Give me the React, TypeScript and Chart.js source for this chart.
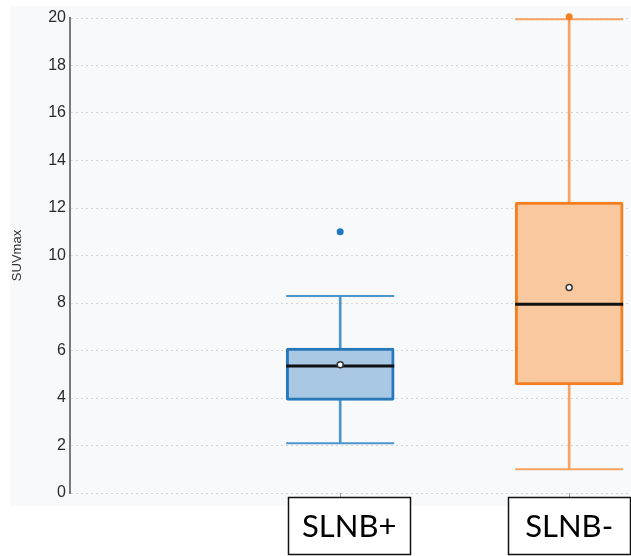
import React, { useEffect, useRef } from "react";
import { Chart, registerables } from "chart.js";

Chart.register(...registerables);

// ---- data ----
const categories = ["SLNB+", "SLNB-"];
const positions = [1, 2];
const q1 = [3.9, 4.55];
const q3 = [6.1, 12.25];
const medians = [5.35, 7.95];
const means = [5.4, 8.65];
const whiskerLow = [2.1, 1.0];
const whiskerHigh = [8.3, 19.95];
const outliers: number[][] = [[11.0], [20.05]];
const yTicks = [0, 2, 4, 6, 8, 10, 12, 14, 16, 18, 20];

// ---- styles ----
const boxFill = ["#a9c8e4", "#f9c89e"];
const boxBorder = ["#2778b9", "#f47f22"];
const whiskerColor = ["#4a95cd", "#f6a261"];
const outlierColor = ["#1f77c0", "#f47f22"];
const labelShift = [9, 0];

export default function App() {
  const ref = useRef<HTMLCanvasElement | null>(null);

  useEffect(() => {
    if (!ref.current) return;

    const bgPlugin = {
      id: "bgPanel",
      beforeDraw(chart: any) {
        const { ctx } = chart;
        ctx.save();
        ctx.fillStyle = "#ffffff";
        ctx.fillRect(0, 0, chart.width, chart.height);
        ctx.fillStyle = "#f8f9fa";
        ctx.fillRect(10, 6, chart.width - 10, 500);
        ctx.restore();
      },
    };

    const labelPlugin = {
      id: "catLabels",
      afterDraw(chart: any) {
        const { ctx } = chart;
        const xs = chart.scales.x;
        ctx.save();
        categories.forEach((c, i) => {
          const cx = xs.getPixelForValue(positions[i]) + labelShift[i];
          const w = 122;
          const left = Math.round(cx - w / 2) + 0.5;
          ctx.fillStyle = "#ffffff";
          ctx.fillRect(left, 497.5, w, 57);
          ctx.strokeStyle = "#111111";
          ctx.lineWidth = 1.5;
          ctx.strokeRect(left, 497.5, w, 57);
          ctx.fillStyle = "#000000";
          ctx.font = "31px Lato";
          ctx.textAlign = "center";
          ctx.textBaseline = "middle";
          ctx.fillText(c, cx, 527);
        });
        ctx.restore();
      },
    };

    const boxData = positions.map((p, i) => ({ x: p, y: [q1[i], q3[i]] }));
    const lowW = positions.map((p, i) => ({ x: p, y: [whiskerLow[i], q1[i]] }));
    const highW = positions.map((p, i) => ({ x: p, y: [q3[i], whiskerHigh[i]] }));
    const caps: any[] = [];
    const capColors: string[] = [];
    positions.forEach((p, i) => {
      caps.push({ x: p, y: whiskerLow[i] });
      capColors.push(whiskerColor[i]);
      caps.push({ x: p, y: whiskerHigh[i] });
      capColors.push(whiskerColor[i]);
    });
    const outPts: any[] = [];
    const outCols: string[] = [];
    positions.forEach((p, i) => {
      outliers[i].forEach((v) => {
        outPts.push({ x: p, y: v });
        outCols.push(outlierColor[i]);
      });
    });

    const chart = new Chart(ref.current, {
      type: "bar",
      data: {
        datasets: [
          {
            type: "bar",
            data: lowW as any,
            backgroundColor: whiskerColor,
            borderWidth: 0,
            barThickness: 2,
            grouped: false,
            order: 8,
          } as any,
          {
            type: "bar",
            data: highW as any,
            backgroundColor: whiskerColor,
            borderWidth: 0,
            barThickness: 2,
            grouped: false,
            order: 8,
          } as any,
          {
            type: "scatter",
            data: caps,
            pointStyle: "line",
            pointRadius: 54,
            borderColor: capColors,
            pointBorderColor: capColors,
            pointBorderWidth: 2,
            clip: false,
            order: 7,
          } as any,
          {
            type: "bar",
            data: boxData as any,
            backgroundColor: boxFill,
            borderColor: boxBorder,
            borderWidth: 3,
            borderRadius: 2,
            borderSkipped: false,
            barThickness: 108,
            grouped: false,
            order: 5,
          } as any,
          {
            type: "scatter",
            data: positions.map((p, i) => ({ x: p, y: medians[i] })),
            pointStyle: "line",
            pointRadius: 54,
            pointBorderColor: "#111111",
            pointBorderWidth: 3,
            clip: false,
            order: 3,
          } as any,
          {
            type: "scatter",
            data: positions.map((p, i) => ({ x: p, y: means[i] })),
            pointStyle: "circle",
            pointRadius: 3,
            pointBackgroundColor: "#ffffff",
            pointBorderColor: "#333333",
            pointBorderWidth: 1.5,
            clip: false,
            order: 2,
          } as any,
          {
            type: "scatter",
            data: outPts,
            pointStyle: "circle",
            pointRadius: 3.5,
            pointBackgroundColor: outCols,
            pointBorderColor: outCols,
            pointBorderWidth: 0,
            clip: false,
            order: 1,
          } as any,
        ],
      },
      options: {
        responsive: false,
        animation: false,
        devicePixelRatio: 1,
        layout: { autoPadding: false, padding: { top: 18, left: 0, right: 0, bottom: 0 } },
        plugins: {
          legend: { display: false },
          tooltip: { enabled: false },
        },
        scales: {
          x: {
            type: "linear",
            min: -0.18,
            max: 2.27,
            offset: false,
            afterBuildTicks: (s: any) => {
              s.ticks = positions.map((v) => ({ value: v }));
            },
            afterFit: (s: any) => {
              s.height = 63;
            },
            ticks: { display: false },
            grid: {
              offset: false,
              drawOnChartArea: false,
              drawTicks: true,
              tickLength: 6,
              color: "#999999",
              lineWidth: 1,
            },
            border: { display: false },
          },
          y: {
            type: "linear",
            min: 0,
            max: 20,
            afterBuildTicks: (s: any) => {
              s.ticks = yTicks.map((v) => ({ value: v }));
            },
            afterFit: (s: any) => {
              s.width = 70;
            },
            ticks: {
              color: "#2a2a2a",
              padding: 4,
              font: { family: "Liberation Sans", size: 16 },
            },
            grid: {
              color: "#d4d6d8",
              lineWidth: 1,
              drawTicks: false,
            },
            border: { display: true, color: "#7a7a7a", width: 2, dash: [2, 3] },
            title: {
              display: true,
              text: "SUVmax",
              color: "#333333",
              font: { family: "Liberation Sans", size: 13 },
              padding: { top: 10, bottom: 0 },
            },
          },
        },
      } as any,
      plugins: [bgPlugin, labelPlugin],
    });

    return () => chart.destroy();
  }, []);

  return (
    <div style={{ position: "absolute", left: 0, top: 0, width: 631, height: 556 }}>
      <canvas ref={ref} width={631} height={556} />
    </div>
  );
}
